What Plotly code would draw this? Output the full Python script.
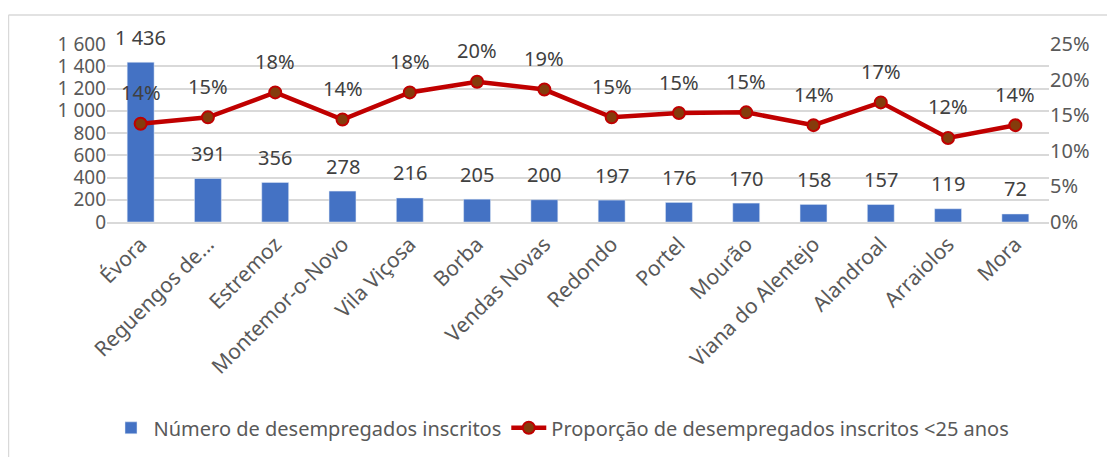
import plotly.graph_objects as go

# municipalities (x axis)
concelhos = ['Évora', 'Reguengos de...', 'Estremoz', 'Montemor-o-Novo', 'Vila Viçosa',
             'Borba', 'Vendas Novas', 'Redondo', 'Portel', 'Mourão',
             'Viana do Alentejo', 'Alandroal', 'Arraiolos', 'Mora']

# number of registered unemployed
desempregados = [1436, 391, 356, 278, 216, 205, 200, 197, 176, 170, 158, 157, 119, 72]

# share of registered unemployed under 25 (fraction)
prop_menos_25 = [0.138, 0.147, 0.182, 0.144, 0.182, 0.197, 0.186, 0.147,
                 0.153, 0.154, 0.136, 0.168, 0.118, 0.136]

txt_color = '#595959'
font_main = 'Noto Sans'

fig = go.Figure()

# bars on the left axis
fig.add_trace(go.Bar(
    x=concelhos,
    y=desempregados,
    name='Número de desempregados inscritos',
    marker=dict(color='#4472C4'),
    width=0.4
))

# line on the right axis
fig.add_trace(go.Scatter(
    x=concelhos,
    y=prop_menos_25,
    name='Proporção de desempregados inscritos <25 anos',
    mode='lines+markers',
    yaxis='y2',
    line=dict(color='#C00000', width=4.5),
    marker=dict(size=12, color='#843C0C', line=dict(color='#C00000', width=2))
))

# data labels (excel style, offset above the marks)
annotations = []
for c, v in zip(concelhos, desempregados):
    annotations.append(dict(
        x=c, y=v, xref='x', yref='y',
        text='{:,}'.format(v).replace(',', ' '),
        showarrow=False, yshift=25, yanchor='middle',
        font=dict(size=20, color='#404040', family=font_main)
    ))
for c, p in zip(concelhos, prop_menos_25):
    annotations.append(dict(
        x=c, y=p, xref='x', yref='y2',
        text='{:.0f}%'.format(p * 100),
        showarrow=False, yshift=31, yanchor='middle',
        font=dict(size=20, color='#404040', family=font_main)
    ))

# page body has an 8px margin, so the figure is a bit smaller than the window
fig.update_layout(
    width=1107,
    height=449,
    margin=dict(l=99, r=66, t=36, b=235, autoexpand=False),
    plot_bgcolor='white',
    paper_bgcolor='white',
    separators=', ',
    font=dict(family=font_main, color=txt_color),
    annotations=annotations,
    showlegend=True,
    legend=dict(
        orientation='h',
        x=0.5, xanchor='center', xref='container',
        y=0.065, yanchor='middle', yref='container',
        font=dict(size=20, color=txt_color),
        itemwidth=35,
        traceorder='normal'
    ),
    xaxis=dict(
        range=[-0.5, len(concelhos) - 0.5],
        tickangle=-45,
        tickfont=dict(size=21, color=txt_color),
        showline=True, linecolor='#D9D9D9', linewidth=1.5,
        ticks='', automargin=False
    ),
    yaxis=dict(
        range=[0, 1600],
        dtick=200,
        tickformat=',d',
        tickfont=dict(size=19, color=txt_color),
        showgrid=True, gridcolor='#D9D9D9', gridwidth=1.5,
        zeroline=False, automargin=False
    ),
    yaxis2=dict(
        overlaying='y',
        side='right',
        range=[0, 0.25],
        dtick=0.05,
        tickformat='.0%',
        tickfont=dict(size=20, color=txt_color),
        showgrid=False,
        zeroline=False, automargin=False
    ),
    bargap=0.6
)

# light chart border (only top and left edges are visible in the crop)
fig.add_shape(type='line', xref='paper', yref='paper',
              x0=-0.1046, x1=1.07, y0=1.163, y1=1.163,
              line=dict(color='#D9D9D9', width=1.5))
fig.add_shape(type='line', xref='paper', yref='paper',
              x0=-0.1046, x1=-0.1046, y0=1.163, y1=-1.32,
              line=dict(color='#D9D9D9', width=1.5))

fig.write_html("out.html")
